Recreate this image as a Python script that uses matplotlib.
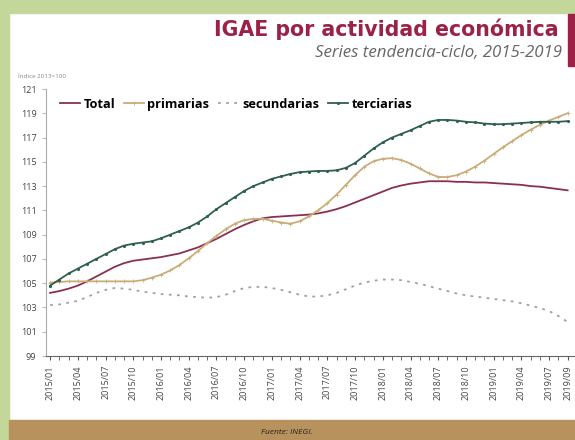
import matplotlib.pyplot as plt
from matplotlib.patches import Rectangle
import numpy as np

plt.rcParams['font.family'] = ['Open Sans', 'DejaVu Sans']

# monthly, 2015/01 .. 2019/09
months = [f"{y}/{m:02d}" for y in range(2015, 2020) for m in range(1, 13)][:57]

total = [104.2, 104.35, 104.55, 104.8, 105.15, 105.55, 105.95, 106.35, 106.65, 106.85,
         106.95, 107.05, 107.15, 107.3, 107.45, 107.7, 107.95, 108.3, 108.65, 109.05,
         109.45, 109.8, 110.1, 110.35, 110.45, 110.5, 110.55, 110.6, 110.65, 110.75,
         110.9, 111.1, 111.35, 111.65, 111.95, 112.25, 112.55, 112.85, 113.05, 113.2,
         113.3, 113.4, 113.4, 113.4, 113.35, 113.35, 113.3, 113.3, 113.25, 113.2,
         113.15, 113.1, 113.0, 112.95, 112.85, 112.75, 112.65]

primarias = [105.05, 105.1, 105.15, 105.15, 105.15, 105.15, 105.15, 105.15, 105.15, 105.15,
             105.25, 105.45, 105.7, 106.05, 106.5, 107.05, 107.65, 108.3, 108.9, 109.45,
             109.9, 110.2, 110.3, 110.3, 110.15, 110.0, 109.9, 110.1, 110.5, 111.0,
             111.6, 112.3, 113.1, 113.9, 114.6, 115.05, 115.25, 115.3, 115.15, 114.85,
             114.45, 114.05, 113.75, 113.75, 113.9, 114.2, 114.6, 115.1, 115.65, 116.2,
             116.7, 117.2, 117.65, 118.05, 118.4, 118.7, 119.0]

secundarias = [103.2, 103.25, 103.4, 103.55, 103.85, 104.2, 104.45, 104.6, 104.55, 104.45,
               104.3, 104.2, 104.1, 104.05, 104.0, 103.9, 103.85, 103.8, 103.85, 104.05,
               104.35, 104.6, 104.7, 104.7, 104.6, 104.45, 104.25, 104.05, 103.9, 103.9,
               104.0, 104.2, 104.5, 104.8, 105.05, 105.2, 105.3, 105.3, 105.25, 105.1,
               104.95, 104.75, 104.55, 104.35, 104.15, 104.0, 103.9, 103.8, 103.7, 103.6,
               103.5, 103.35, 103.15, 102.95, 102.7, 102.3, 101.8]

terciarias = [104.8, 105.3, 105.8, 106.2, 106.6, 107.0, 107.4, 107.8, 108.1, 108.25,
              108.35, 108.45, 108.7, 109.0, 109.3, 109.6, 110.0, 110.5, 111.1, 111.6,
              112.1, 112.6, 113.0, 113.3, 113.6, 113.8, 114.0, 114.15, 114.2, 114.25,
              114.25, 114.3, 114.5, 114.9, 115.5, 116.1, 116.6, 117.0, 117.3, 117.6,
              117.95, 118.3, 118.45, 118.45, 118.4, 118.3, 118.25, 118.15, 118.1, 118.1,
              118.15, 118.2, 118.25, 118.3, 118.3, 118.3, 118.35]

tick_idx = list(range(0, 57, 3)) + [56]
tick_labels = [months[i] for i in tick_idx]

fig = plt.figure(figsize=(5.75, 4.4), dpi=100)
fig.patch.set_facecolor('white')

# frame: green border, brown footer, red mark by the title
fig.patches.append(Rectangle((0, 0), 9 / 575, 1, transform=fig.transFigure, color='#c4d79b', zorder=0))
fig.patches.append(Rectangle((0, 427 / 440), 1, 13 / 440, transform=fig.transFigure, color='#c4d79b', zorder=0))
fig.patches.append(Rectangle((9 / 575, 0), 1, 20 / 440, transform=fig.transFigure, color='#b8925c', zorder=0))
fig.patches.append(Rectangle((568 / 575, 374 / 440), 7 / 575, 52 / 440, transform=fig.transFigure, color='#9b2246', zorder=1))

fig.text(559 / 575, 411 / 440, 'IGAE por actividad económica', ha='right', va='center',
         fontsize=14.8, fontweight='bold', color='#9b2246', family='DejaVu Sans')
fig.text(562 / 575, 387 / 440, 'Series tendencia-ciclo, 2015-2019', ha='right', va='center',
         fontsize=12.2, style='italic', color='#666666')
fig.text(18 / 575, 364 / 440, 'Índice 2013=100', ha='left', va='center', fontsize=4.5, color='#888888')
fig.text(287 / 575, 8 / 440, 'Fuente: INEGI.', ha='center', va='center', fontsize=6, style='italic', color='#222222')

ax = fig.add_axes([45.5 / 575, 84 / 440, 529.5 / 575, 267 / 440])
x = np.arange(len(months))

ax.plot(x, total, color='#8a2f52', lw=1.3, label='Total')
ax.plot(x, primarias, color='#c9ad78', lw=1.3, marker='+', ms=3, mew=0.6, label='primarias')
ax.plot(x, secundarias, color='#a0a0a0', lw=1.3, ls=(0, (1.5, 3)), label='secundarias')
ax.plot(x, terciarias, color='#2e5f50', lw=1.3, marker='.', ms=2.5, label='terciarias')

ax.set_xlim(-0.5, 56.8)
ax.set_ylim(99, 121)
ax.set_yticks(range(99, 122, 2))
ax.set_xticks(tick_idx)
ax.set_xticklabels(tick_labels, rotation=90, fontsize=6.5, color='#444444')
ax.set_xticks(x, minor=True)
ax.tick_params(axis='y', labelsize=6.5, labelcolor='#444444', length=3, color='#bbbbbb')
ax.tick_params(axis='x', which='both', length=3, color='#555555', direction='out')

for s in ['top', 'right']:
    ax.spines[s].set_visible(False)
ax.spines['left'].set_color('#aaaaaa')
ax.spines['bottom'].set_color('#666666')

leg = ax.legend(loc='upper left', bbox_to_anchor=(0.005, 1.01), ncol=4, frameon=False,
                prop={'weight': 'bold', 'size': 9.2}, handlelength=1.6, handletextpad=0.25,
                columnspacing=0.7)

fig.savefig('out.png', dpi=100)
